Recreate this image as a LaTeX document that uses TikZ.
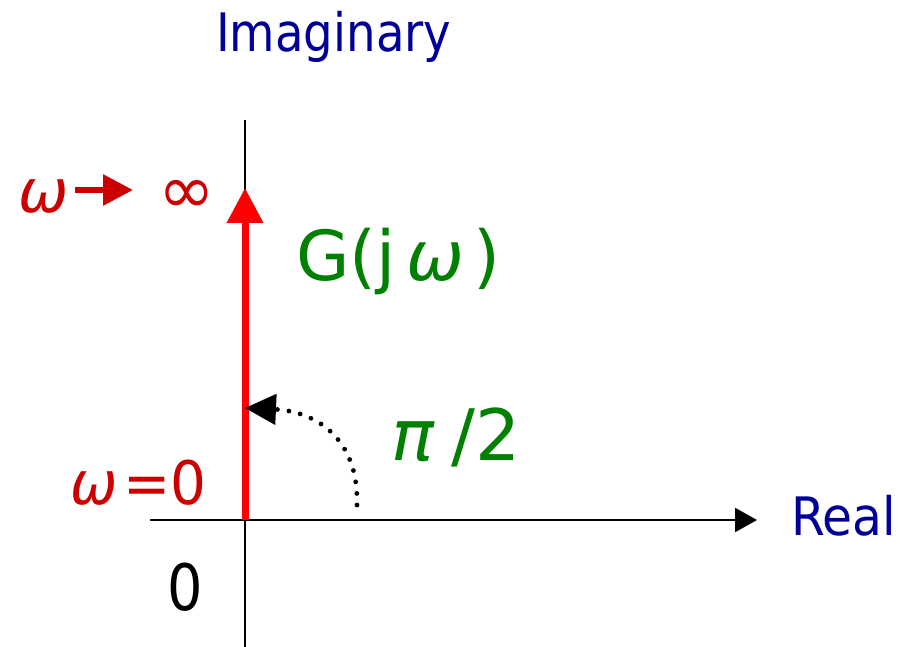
\documentclass[tikz,border=0pt]{standalone}
\usepackage{fontspec}
\setmainfont{DejaVu Sans}
\usetikzlibrary{arrows.meta}
\definecolor{axblue}{HTML}{000099}
\definecolor{lblred}{HTML}{CC0000}
\definecolor{arrred}{HTML}{FF0000}
\definecolor{lblgreen}{HTML}{008000}
\newcommand{\narrowtxt}[2][0.87]{\scalebox{#1}[1]{#2}}
\begin{document}
\begin{tikzpicture}[x=1pt,y=-1pt,
  lbl/.style={inner sep=0pt, anchor=base west},
  lble/.style={inner sep=0pt, anchor=base east},
  axisline/.style={line width=2.5pt, black},
  bluelbl/.style={lbl, text=axblue, font=\fontsize{53}{60}\selectfont},
  redlbl/.style={text=lblred, font=\fontsize{60}{66}\selectfont},
  greenlbl/.style={lbl, text=lblgreen}
]
\useasboundingbox (0,0) rectangle (902,647);

% coordinates
\coordinate (vtop) at (245,120);
\coordinate (vbot) at (245,647);
\coordinate (hl) at (150,520);
\coordinate (hr) at (757,520);
\coordinate (O) at (245,520);
\coordinate (rtop) at (245,188);
\coordinate (arcS) at (357,505);
\coordinate (arcE) at (245,408);

% axes
\draw[axisline] (vbot) -- (vtop);
\draw[axisline, -{Triangle[length=22pt,width=24pt]}] (hl) -- (hr);

% red response
\draw[line width=7pt, arrred, -{Triangle[length=35pt,width=35pt]}] (O) -- (rtop);

% dotted angle arc
\draw[black, line width=4.8pt, line cap=round, dash pattern=on 0pt off 11.6pt,
      -{Triangle[length=31pt,width=30pt]}]
  (arcS) .. controls (359,435) and (312,411) .. (arcE);

% labels
\node[bluelbl] (imag) at (216,52) {\narrowtxt[0.88]{Imaginary}};
\node[bluelbl] (real) at (791,535) {\narrowtxt[0.92]{Real}};
\node[greenlbl, font=\fontsize{69}{76}\selectfont] (G) at (296,280)
  {G(j\kern0.15em{\itshape ω}\kern0.14em)};
\node[greenlbl, font=\fontsize{71}{78}\selectfont] (pi) at (391,460)
  {{\itshape π}\kern0.25em/2};
\node[redlbl, lble] (w0) at (207,504) {\narrowtxt[0.94]{{\itshape ω}\kern0.1em=0}};
\node[lble, font=\fontsize{64}{70}\selectfont] (zero) at (203,610) {\narrowtxt{0}};
\node[redlbl, lbl] (winf) at (18,213) {{\itshape ω}};
\node[redlbl, lbl, font=\fontsize{68}{74}\selectfont] (inf) at (158,214) {∞};
\draw[line width=6pt, lblred, -{Triangle[length=30pt,width=30pt]}]
  ([xshift=6pt,yshift=23pt]winf.base east) -- ([xshift=-25pt,yshift=24pt]inf.base west);
\end{tikzpicture}
\end{document}
